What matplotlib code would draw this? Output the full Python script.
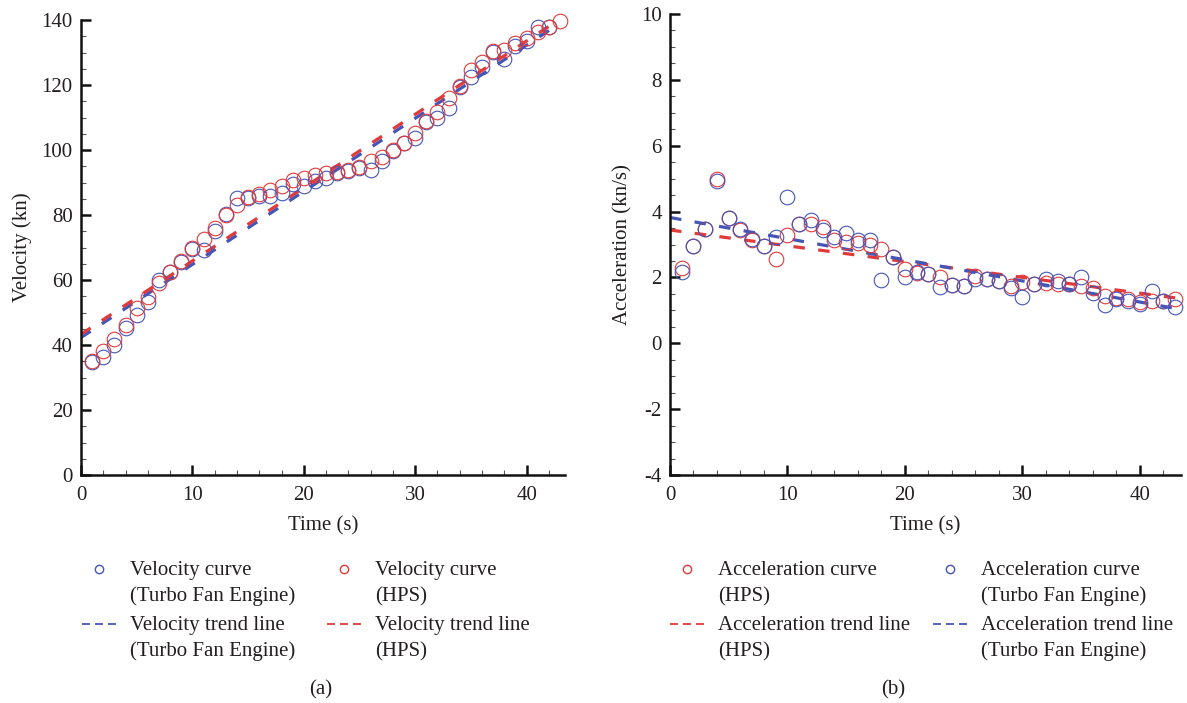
import numpy as np
import matplotlib
matplotlib.use('Agg')
import matplotlib.pyplot as plt
from matplotlib.lines import Line2D
from matplotlib.ticker import MultipleLocator

# ---- data ----
time_tfe = np.arange(1, 43)
time_hps = np.arange(1, 44)

vel_tfe = [34.7, 36.2, 40.1, 45.2, 49.3, 53.3, 60.0, 62.6, 65.6, 69.4,
           69.1, 75.0, 80.2, 85.2, 85.2, 86.0, 85.8, 86.8, 89.5, 88.8,
           90.4, 91.4, 92.9, 93.6, 94.6, 93.9, 96.5, 99.8, 102.1, 103.6,
           108.7, 109.7, 112.8, 119.4, 122.5, 125.6, 130.2, 128.1, 132.0, 133.5,
           137.8, 137.8]
vel_hps = [35.0, 38.3, 41.9, 46.3, 51.4, 54.8, 59.0, 62.6, 66.0, 70.0,
           72.5, 76.0, 80.0, 83.0, 85.5, 86.5, 87.8, 89.0, 90.8, 91.4,
           92.4, 92.9, 93.2, 93.8, 94.8, 96.5, 98.0, 100.0, 102.3, 105.1,
           108.9, 111.8, 115.9, 119.8, 124.6, 127.1, 130.5, 130.7, 132.8, 134.5,
           136.3, 138.0, 139.6]

acc_tfe = [2.15, 2.95, 3.48, 4.93, 3.79, 3.46, 3.18, 2.96, 3.24, 4.45,
           3.61, 3.74, 3.44, 3.24, 3.36, 3.14, 3.14, 1.92, 2.63, 2.02,
           2.18, 2.10, 1.72, 1.76, 1.74, 1.94, 1.94, 1.89, 1.69, 1.42,
           1.79, 1.94, 1.89, 1.79, 2.00, 1.54, 1.15, 1.34, 1.28, 1.18,
           1.59, 1.28, 1.10]
acc_hps = [2.30, 2.95, 3.48, 4.99, 3.79, 3.44, 3.15, 2.96, 2.55, 3.28,
           3.61, 3.61, 3.54, 3.14, 3.08, 3.04, 3.00, 2.87, 2.63, 2.25,
           2.12, 2.10, 2.00, 1.78, 1.74, 2.04, 1.94, 1.89, 1.74, 1.86,
           1.79, 1.82, 1.79, 1.79, 1.74, 1.69, 1.44, 1.39, 1.34, 1.24,
           1.28, 1.28, 1.35]

trend_t = [0, 43]
vel_trend_tfe = [42.3, 139.0]
vel_trend_hps = [43.3, 140.3]
acc_trend_tfe = [3.82, 1.06]
acc_trend_hps = [3.44, 1.38]

BLUE = '#4455b8'
RED = '#e03a3a'
TXT = '#231f20'

plt.rcParams['font.family'] = ['Liberation Serif', 'DejaVu Serif']
plt.rcParams['font.size'] = 15
plt.rcParams['axes.unicode_minus'] = False
plt.rcParams['text.color'] = TXT
plt.rcParams['axes.labelcolor'] = TXT
plt.rcParams['xtick.color'] = TXT
plt.rcParams['ytick.color'] = TXT

W, H = 1187, 703
fig = plt.figure(figsize=(W / 100, H / 100), dpi=100)


def px_axes(x0, x1, y_top, y_bot):
    return fig.add_axes([x0 / W, 1 - y_bot / H, (x1 - x0) / W, (y_bot - y_top) / H])


def style_axes(ax, ymaj, ymin):
    for s in ('top', 'right'):
        ax.spines[s].set_visible(False)
    for s in ('left', 'bottom'):
        ax.spines[s].set_linewidth(1.8)
        ax.spines[s].set_color('#111111')
    ax.xaxis.set_major_locator(MultipleLocator(10))
    ax.xaxis.set_minor_locator(MultipleLocator(2))
    ax.yaxis.set_major_locator(MultipleLocator(ymaj))
    ax.yaxis.set_minor_locator(MultipleLocator(ymin))
    ax.tick_params(which='major', direction='in', length=7, width=1.8, pad=6, color='#111111')
    ax.tick_params(which='minor', direction='in', length=3.5, width=0.8, color='#555555')
    ax.tick_params(axis='x', which='major', pad=8)
    ax.set_xlabel('Time (s)', labelpad=8)


def scatter(ax, t, v, c):
    ax.plot(t, v, 'o', ms=10.5, mfc='none', mec=c, mew=0.8, clip_on=False)


def trend(ax, t, v, c):
    ax.plot(t, v, color=c, lw=2.3, dashes=(3.6, 4.2), solid_capstyle='butt')


def legend_entry(kind, color, text, x0, y):
    # x0, y in pixels from top-left; handle 34 px long, label 48 px right of its start
    fx = lambda p: p / W
    fy = lambda p: 1 - p / H
    if kind == 'o':
        fig.add_artist(Line2D([fx(x0 + 17)], [fy(y)], ls='none', marker='o', ms=6,
                              mfc='none', mec=color, mew=1.0, transform=fig.transFigure))
    else:
        fig.add_artist(Line2D([fx(x0), fx(x0 + 34)], [fy(y), fy(y)], color=color, lw=1.3,
                              dashes=(4.4, 2.8), transform=fig.transFigure))
    first, second = text.split('\n')
    fig.text(fx(x0 + 48), fy(y + 6), first, va='baseline', ha='left')
    fig.text(fx(x0 + 48), fy(y + 32), second, va='baseline', ha='left')


ROWS = [569, 624]

# ---- (a) velocity ----
ax1 = px_axes(81, 565, 20, 475)
style_axes(ax1, 20, 5)
trend(ax1, trend_t, vel_trend_tfe, BLUE)
trend(ax1, trend_t, vel_trend_hps, RED)
scatter(ax1, time_tfe, vel_tfe, BLUE)
scatter(ax1, time_hps, vel_hps, RED)
ax1.set_xlim(0, 43.45)
ax1.set_ylim(0, 140)
ax1.set_ylabel('Velocity (kn)', labelpad=7)

legend_entry('o', BLUE, 'Velocity curve\n(Turbo Fan Engine)', 82, ROWS[0])
legend_entry('-', BLUE, 'Velocity trend line\n(Turbo Fan Engine)', 82, ROWS[1])
legend_entry('o', RED, 'Velocity curve\n(HPS)', 327, ROWS[0])
legend_entry('-', RED, 'Velocity trend line\n(HPS)', 327, ROWS[1])
fig.text(321 / W, 1 - 690 / H, '(a)', ha='center', va='center')

# ---- (b) acceleration ----
ax2 = px_axes(670, 1181, 14, 475)
style_axes(ax2, 2, 0.5)
trend(ax2, trend_t, acc_trend_hps, RED)
trend(ax2, trend_t, acc_trend_tfe, BLUE)
scatter(ax2, time_hps, acc_hps, RED)
scatter(ax2, time_hps, acc_tfe, BLUE)
ax2.set_xlim(0, 43.5)
ax2.set_ylim(-4, 10)
ax2.set_ylabel('Acceleration (kn/s)', labelpad=6)

legend_entry('o', RED, 'Acceleration curve\n(HPS)', 670, ROWS[0])
legend_entry('-', RED, 'Acceleration trend line\n(HPS)', 670, ROWS[1])
legend_entry('o', BLUE, 'Acceleration curve\n(Turbo Fan Engine)', 933, ROWS[0])
legend_entry('-', BLUE, 'Acceleration trend line\n(Turbo Fan Engine)', 933, ROWS[1])
fig.text(893 / W, 1 - 690 / H, '(b)', ha='center', va='center')

fig.savefig('out.png', dpi=100)
